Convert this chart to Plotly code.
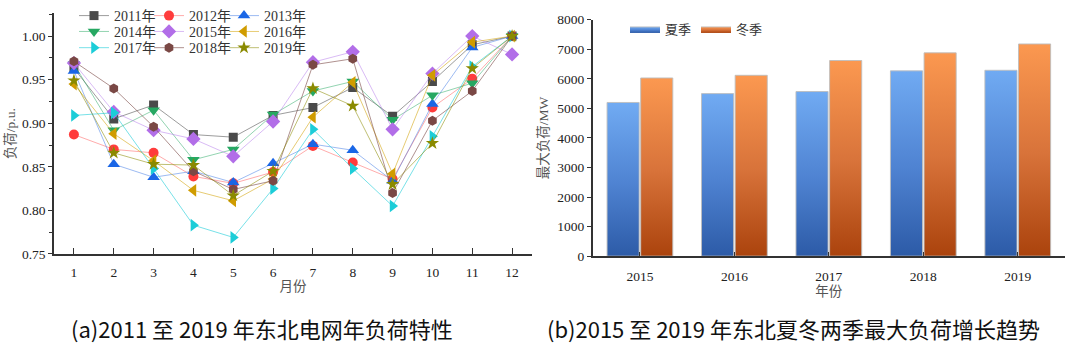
import plotly.graph_objects as go

# ---------------- data: (a) monthly load characteristics ----------------
months = list(range(1, 13))
series_names = ['2011年', '2012年', '2013年', '2014年', '2015年',
                '2016年', '2017年', '2018年', '2019年']
load_2011 = [0.963, 0.905, 0.921, 0.887, 0.884, 0.909, 0.918, 0.941, 0.908, 0.948, 0.990, 1.000]
load_2012 = [0.887, 0.870, 0.866, 0.839, 0.831, 0.844, 0.874, 0.855, 0.836, 0.918, 0.951, 1.000]
load_2013 = [0.960, 0.853, 0.838, 0.845, 0.832, 0.854, 0.876, 0.869, 0.834, 0.922, 0.987, 1.000]
load_2014 = [0.968, 0.892, 0.915, 0.858, 0.870, 0.910, 0.937, 0.948, 0.904, 0.932, 0.946, 1.000]
load_2015 = [0.969, 0.913, 0.892, 0.882, 0.862, 0.902, 0.970, 0.982, 0.893, 0.957, 1.000, 0.979]
load_2016 = [0.945, 0.888, 0.857, 0.823, 0.811, 0.836, 0.907, 0.947, 0.842, 0.955, 0.993, 1.000]
load_2017 = [0.909, 0.912, 0.848, 0.783, 0.769, 0.825, 0.893, 0.848, 0.805, 0.885, 0.965, 1.000]
load_2018 = [0.971, 0.940, 0.896, 0.845, 0.824, 0.834, 0.967, 0.974, 0.820, 0.903, 0.937, 1.000]
load_2019 = [0.949, 0.866, 0.853, 0.852, 0.817, 0.845, 0.940, 0.920, 0.830, 0.877, 0.963, 1.000]
loads = [load_2011, load_2012, load_2013, load_2014, load_2015,
         load_2016, load_2017, load_2018, load_2019]
month_ticks = [str(m) for m in months]

# ---------------- data: (b) seasonal peak load ----------------
years_b = ['2015', '2016', '2017', '2018', '2019']
summer_peak = [5200, 5500, 5570, 6270, 6290]
winter_peak = [6030, 6120, 6620, 6880, 7180]
season_names = ['夏季', '冬季']

# ---------------- styles ----------------
SERIF = 'Liberation Serif, Noto Sans CJK SC, serif'
CJK = 'Noto Sans CJK SC, sans-serif'
marker_colors = ['#4a4a4a', '#ff3c3c', '#1a66e6', '#26a862', '#b26ee8',
                 '#d09c00', '#1ccdd8', '#7a4845', '#8a8a00']
line_colors = ['rgba(90,90,90,0.6)', 'rgba(255,90,90,0.5)', 'rgba(60,120,230,0.5)',
               'rgba(40,170,100,0.5)', 'rgba(180,120,235,0.5)', 'rgba(210,160,0,0.55)',
               'rgba(30,205,216,0.6)', 'rgba(122,72,69,0.6)', 'rgba(138,138,0,0.55)']
symbols = ['square', 'circle', 'triangle-up', 'triangle-down', 'diamond',
           'triangle-left', 'triangle-right', 'hexagon', 'star']
sizes = [9, 10, 11, 11, 11, 11, 11, 10, 10]

W, H = 1080, 351
# legend grid positions (pixels): 3 columns x 3 rows
leg_cols_px = [74, 149, 224]
leg_rows_px = [8, 25, 42]

fig = go.Figure()

for k, (name, vals) in enumerate(zip(series_names, loads)):
    leg_id = 'legend' if k == 0 else f'legend{k + 1}'
    fig.add_trace(go.Scatter(
        x=months, y=vals, name=name, mode='lines+markers',
        line=dict(color=line_colors[k], width=1),
        marker=dict(symbol=symbols[k], size=sizes[k], color=marker_colors[k],
                    line=dict(width=0)),
        xaxis='x', yaxis='y', legend=leg_id,
    ))

layout_legends = {}
for k in range(9):
    leg_id = 'legend' if k == 0 else f'legend{k + 1}'
    col, row = k % 3, k // 3
    layout_legends[leg_id] = dict(
        x=leg_cols_px[col] / W, xanchor='left',
        y=1 - leg_rows_px[row] / H, yanchor='middle',
        bgcolor='rgba(0,0,0,0)', borderwidth=0,
        font=dict(family=SERIF, size=14, color='#333'),
        itemwidth=30,
    )

# ---------------- bars with vertical gradients ----------------
bar_w = 0.34
bar_off = 0.178
season_vals = [summer_peak, winter_peak]
season_scales = [
    [[0, '#2a58a4'], [0.5, '#4f83d2'], [1, '#70aaf2']],
    [[0, '#a8400a'], [0.5, '#d8733a'], [1, '#fb9850']],
]
season_fill = ['#4f83d2', '#d8733a']
for s, (sname, vals) in enumerate(zip(season_names, season_vals)):
    sign = -1 if s == 0 else 1
    for i, v in enumerate(vals):
        xc = i + sign * bar_off
        x0, x1 = xc - bar_w / 2, xc + bar_w / 2
        fig.add_trace(go.Scatter(
            x=[x0, x1, x1, x0, x0], y=[0, 0, v, v, 0],
            mode='lines', fill='toself', name=sname,
            fillcolor=season_fill[s],
            fillgradient=dict(type='vertical', colorscale=season_scales[s],
                              start=0, stop=v),
            line=dict(color='rgba(190,190,190,0.9)', width=1),
            xaxis='x2', yaxis='y2', legend='legend10', legendgroup=sname,
            showlegend=(i == 0), hoverinfo='skip',
        ))

layout_legends['legend10'] = dict(
    x=625 / W, xanchor='left', y=1 - 22 / H, yanchor='middle',
    orientation='h', bgcolor='rgba(0,0,0,0)', borderwidth=0,
    font=dict(family=SERIF, size=13, color='#333'), itemwidth=30,
)

axis_common = dict(
    showline=True, linecolor='#333', linewidth=1.5, mirror=False,
    showgrid=False, zeroline=False,
    tickfont=dict(family=SERIF, size=13.5, color='#222'),
    tickcolor='#333', tickwidth=1.3,
)

fig.update_layout(
    width=W, height=H,
    margin=dict(l=0, r=0, t=0, b=0),
    paper_bgcolor='white', plot_bgcolor='white',
    showlegend=True,
    xaxis=dict(
        domain=[54 / W, 532 / W], anchor='y',
        range=[0.5, 12.5], tickmode='array', tickvals=months, ticktext=month_ticks,
        ticks='inside', ticklen=6, ticklabelstandoff=5,
        title=dict(text='月份', font=dict(family=SERIF, size=13.5, color='#555'), standoff=3),
        **axis_common,
    ),
    yaxis=dict(
        domain=[1 - 257.7 / H, 1 - 5.7 / H], anchor='x',
        range=[0.75, 1.026], tickmode='array',
        tickvals=[0.75, 0.80, 0.85, 0.90, 0.95, 1.00],
        ticktext=['0.75', '0.80', '0.85', '0.90', '0.95', '1.00'],
        ticks='outside', ticklen=4,
        minor=dict(ticks='outside', ticklen=3, dtick=0.025, tick0=0.75,
                   tickcolor='#333', tickwidth=1),
        title=dict(text='负荷/p.u.', font=dict(family=SERIF, size=13.5, color='#555'), standoff=3),
        **axis_common,
    ),
    xaxis2=dict(
        domain=[592.7 / W, 1065 / W], anchor='y2',
        range=[-0.5, 4.5], tickmode='array', tickvals=list(range(len(years_b))),
        ticktext=years_b, ticks='inside', ticklen=4, ticklabelstandoff=7,
        title=dict(text='年份', font=dict(family=SERIF, size=13.5, color='#555'), standoff=2),
        **axis_common,
    ),
    yaxis2=dict(
        domain=[1 - 260 / H, 1 - 12.3 / H], anchor='x2',
        range=[0, 8000], tickmode='array', tickvals=list(range(0, 8001, 1000)),
        ticks='outside', ticklen=4,
        title=dict(text='最大负荷/MW', font=dict(family=SERIF, size=13.5, color='#555'), standoff=6),
        **axis_common,
    ),
    **layout_legends,
)

fig.add_annotation(text='(a)2011 至 2019 年东北电网年负荷特性',
                   x=262 / W, y=1 - 335 / H, xref='paper', yref='paper',
                   xanchor='center', yanchor='middle', showarrow=False,
                   font=dict(family=CJK, size=22, color='#111'))
fig.add_annotation(text='(b)2015 至 2019 年东北夏冬两季最大负荷增长趋势',
                   x=793 / W, y=1 - 335 / H, xref='paper', yref='paper',
                   xanchor='center', yanchor='middle', showarrow=False,
                   font=dict(family=CJK, size=22, color='#111'))

fig.write_html('out.html')
